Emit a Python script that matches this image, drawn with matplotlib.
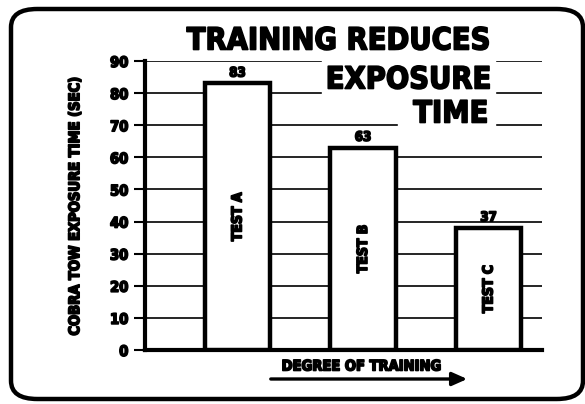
import matplotlib
matplotlib.use("Agg")
from matplotlib import pyplot
from matplotlib import patheffects
from matplotlib.patches import FancyBboxPatch, Rectangle, FancyArrowPatch

tests = ["TEST A", "TEST B", "TEST C"]
exposure_sec = [83, 63, 38]
value_labels = ["83", "63", "37"]
y_ticks = [0, 10, 20, 30, 40, 50, 60, 70, 80, 90]

FONT = dict(family="DejaVu Sans", weight="heavy", stretch="condensed")
THICK = [patheffects.withStroke(linewidth=1.2, foreground="black")]


def main():
    fig = pyplot.figure(figsize=[5.85, 4.04], dpi=100)
    W, H = 585, 404

    def fx(px):
        return px / W

    def fy(py):
        return 1 - py / H

    # rounded frame
    frame = FancyBboxPatch((fx(11), fy(399)), fx(572), fy(9) - fy(399),
                           boxstyle="round,pad=0,rounding_size=0.045",
                           transform=fig.transFigure, fill=False,
                           lw=3.2, ec="black", zorder=0)
    fig.patches.append(frame)

    ax = fig.add_axes([fx(145), fy(350), fx(542) - fx(145), fy(61) - fy(350)])
    x = list(range(len(tests)))
    ax.set_xlim(-0.737, 2.426)
    ax.set_ylim(0, 90)
    ax.set_axisbelow(True)
    ax.grid(axis="y", color="black", lw=1.2)
    ax.bar(x, exposure_sec, width=0.52, color="white", edgecolor="black",
           lw=3.2, zorder=3)

    for i, v in enumerate(exposure_sec):
        ax.text(i, v / 2, tests[i], rotation=90, ha="center", va="center",
                fontsize=10, zorder=4, path_effects=THICK, **FONT)
        ax.text(i, v + 1.2, value_labels[i], ha="center", va="bottom",
                fontsize=9.5, zorder=4, path_effects=THICK, **FONT)

    ax.set_yticks(y_ticks)
    ax.set_yticklabels([str(t) for t in y_ticks], fontsize=10.5, **FONT)
    for lbl in ax.get_yticklabels():
        lbl.set_path_effects(THICK)
    ax.set_xticks([])
    ax.tick_params(axis="y", length=8, width=1.5, pad=4)
    for s in ["top", "right"]:
        ax.spines[s].set_visible(False)
    ax.spines["left"].set_linewidth(3)
    ax.spines["bottom"].set_linewidth(3)
    ax.set_ylabel("COBRA TOW EXPOSURE TIME (SEC)", fontsize=10.5,
                  labelpad=20, path_effects=THICK, **FONT)

    # white blocks hiding gridlines behind the title
    for (x0, y0, x1, y1) in [(322, 57, 495, 99), (398, 99, 495, 131)]:
        fig.patches.append(Rectangle((fx(x0), fy(y1)), fx(x1 - x0),
                                     fy(y0) - fy(y1), transform=fig.transFigure,
                                     color="white", zorder=5))

    fig.text(fx(338), fy(41), "TRAINING REDUCES", ha="center", va="center",
             fontsize=22, zorder=6, path_effects=THICK, **FONT)
    fig.text(fx(491), fy(80), "EXPOSURE", ha="right", va="center",
             fontsize=22, zorder=6, path_effects=THICK, **FONT)
    fig.text(fx(488), fy(114), "TIME", ha="right", va="center",
             fontsize=22, zorder=6, path_effects=THICK, **FONT)

    fig.text(fx(362), fy(366), "DEGREE OF TRAINING", ha="center", va="center",
             fontsize=10.5, path_effects=THICK, **FONT)
    fig.add_artist(FancyArrowPatch(
        (fx(268), fy(379)), (fx(470), fy(379)), transform=fig.transFigure,
        arrowstyle="-|>,head_length=9,head_width=4", mutation_scale=1,
        lw=2.4, color="black"))

    fig.savefig("out.png", dpi=100)


if __name__ == '__main__':
    main()
